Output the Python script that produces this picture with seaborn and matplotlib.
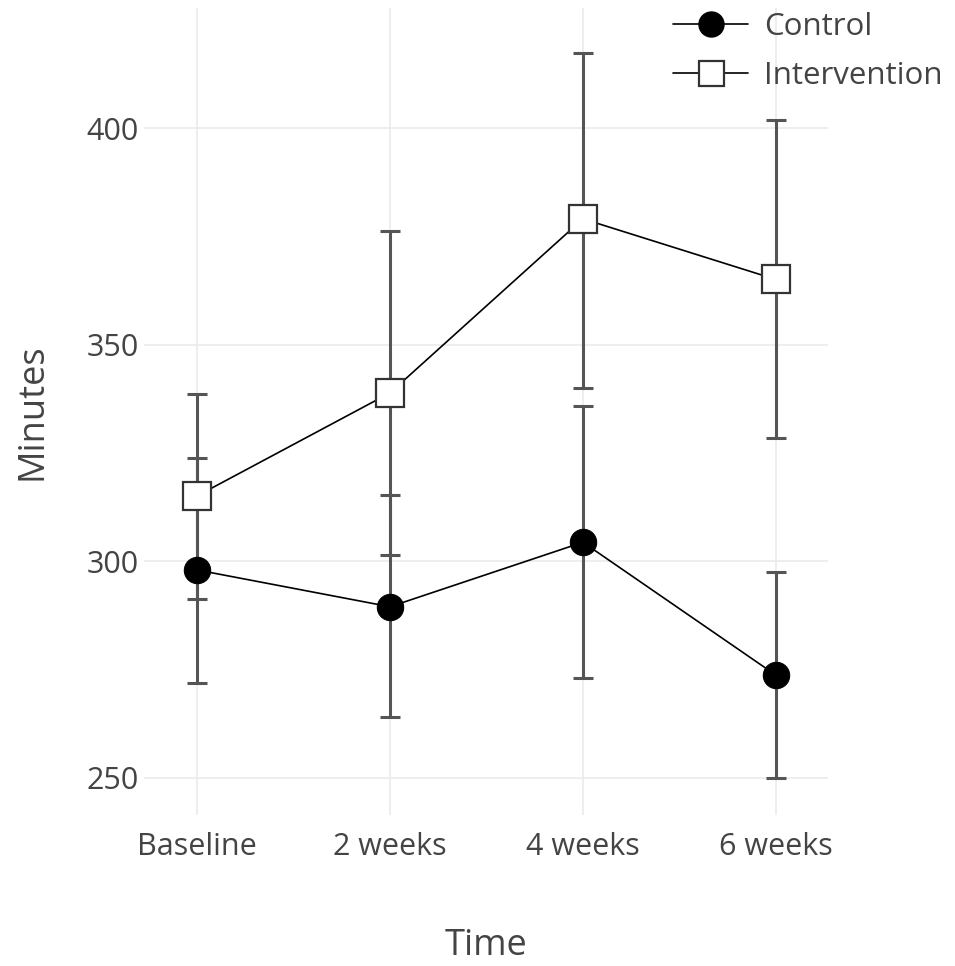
import numpy as np
import pandas as pd
import matplotlib.pyplot as plt
import seaborn as sns
from matplotlib.lines import Line2D

# --- DATA ---
TIMES = ['Baseline', '2 weeks', '4 weeks', '6 weeks']

CONTROL_MEAN = [298.0, 289.5, 304.4, 273.7]
CONTROL_LOW = [272.0, 264.1, 273.0, 249.9]
CONTROL_HIGH = [323.8, 315.3, 335.9, 297.6]

INTERV_MEAN = [315.1, 338.9, 379.1, 365.1]
INTERV_LOW = [291.4, 301.4, 340.1, 328.4]
INTERV_HIGH = [338.6, 376.3, 417.5, 401.9]

Y_TICKS = [250, 300, 350, 400]

TEXT = '#444444'


def plot_minutes():
    df = pd.concat([
        pd.DataFrame({'Time': TIMES, 'Minutes': CONTROL_MEAN, 'Group': 'Control'}),
        pd.DataFrame({'Time': TIMES, 'Minutes': INTERV_MEAN, 'Group': 'Intervention'}),
    ], ignore_index=True)

    sns.set_theme(style='whitegrid')
    plt.rcParams['font.family'] = ['Open Sans', 'DejaVu Sans']

    fig = plt.figure(figsize=(9.55, 9.66), dpi=100)
    W, H = 955, 966
    ax = fig.add_axes([144 / W, (H - 815) / H, (828 - 144) / W, (815 - 8) / H])

    # error bars first so the markers sit on top
    x = np.arange(len(TIMES))
    for mean, lo, hi in [(CONTROL_MEAN, CONTROL_LOW, CONTROL_HIGH),
                         (INTERV_MEAN, INTERV_LOW, INTERV_HIGH)]:
        mean = np.array(mean)
        err = [mean - np.array(lo), np.array(hi) - mean]
        ax.errorbar(x, mean, yerr=err, fmt='none', ecolor='#555555',
                    elinewidth=2.2, capsize=7.5, capthick=2.2, zorder=2)

    sns.lineplot(
        data=df, x='Time', y='Minutes', hue='Group', style='Group',
        palette={'Control': 'black', 'Intervention': 'black'},
        markers={'Control': 'o', 'Intervention': 's'},
        dashes=False, sort=False, linewidth=1.2, markersize=19,
        ax=ax, zorder=3, legend=False,
    )
    # hollow squares for the intervention group
    for line in ax.lines:
        if line.get_marker() == 's':
            line.set_markerfacecolor('white')
            line.set_markeredgecolor('#333333')
            line.set_markeredgewidth(1.6)
            line.set_markersize(20)
        elif line.get_marker() == 'o':
            line.set_markeredgecolor('black')

    ax.set_xlim(-0.275, 3.27)
    ax.set_ylim(241.4, 427.8)
    ax.set_xticks(x)
    ax.set_xticklabels(TIMES)
    ax.set_yticks(Y_TICKS)

    ax.grid(True, color='#ebebeb', linewidth=1.2)
    for s in ax.spines.values():
        s.set_visible(False)
    ax.tick_params(axis='both', length=0, labelsize=22, colors=TEXT)
    ax.tick_params(axis='x', pad=12)
    ax.tick_params(axis='y', pad=4)

    ax.set_xlabel('Time', fontsize=26, color=TEXT, labelpad=48)
    ax.set_ylabel('Minutes', fontsize=26, color=TEXT, labelpad=26)

    # legend in the top-right corner, above the panel
    handles = [
        Line2D([], [], color='black', linewidth=1.2, marker='o', markersize=18,
               markerfacecolor='black', markeredgecolor='black'),
        Line2D([], [], color='black', linewidth=1.2, marker='s', markersize=18,
               markerfacecolor='white', markeredgecolor='#333333', markeredgewidth=1.6),
    ]
    fig.legend(handles, ['Control', 'Intervention'], loc='upper left',
               bbox_to_anchor=(673 / W, 1 - 12 / H), frameon=False,
               fontsize=22.5, labelcolor=TEXT, handlelength=2.4,
               handletextpad=0.5, labelspacing=0.62, borderpad=0,
               borderaxespad=0)

    fig.savefig('out.png', dpi=100)


if __name__ == '__main__':
    plot_minutes()
